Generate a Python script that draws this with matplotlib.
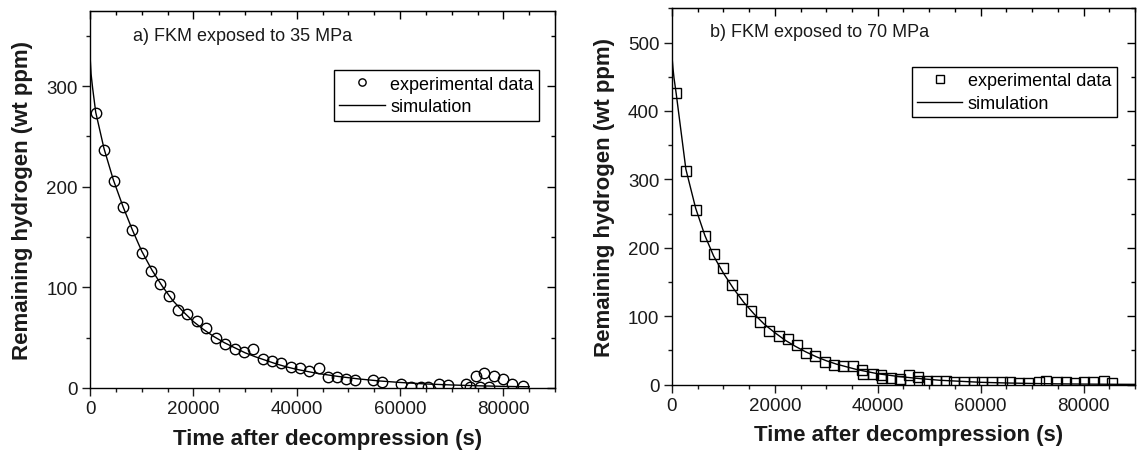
import matplotlib
matplotlib.use("Agg")
import matplotlib.pyplot as plt
from matplotlib.ticker import MultipleLocator

plt.rcParams['font.family'] = ['Liberation Sans', 'DejaVu Sans']

# a) FKM exposto a 35 MPa - dados experimentais (s, wt ppm)
t_exp_35 = [1100, 2700, 4570, 6360, 8100, 9970, 11700, 13500, 15300, 17000,
            18840, 20700, 22500, 24300, 26170, 27970, 29700, 31500, 33420, 35160,
            36970, 38900, 40640, 42430, 44220, 45960, 47700, 49500, 51300, 54700,
            56500, 60200, 62100, 64000, 65500, 67500, 69200, 72800, 73600, 74600,
            75500, 76300, 77300, 78100, 79900, 81600, 83700]
h_exp_35 = [273, 237, 206, 180, 157, 134, 116, 103, 91, 77.5,
            74, 67, 60, 49.5, 44, 38.6, 36, 39, 28.7, 27,
            24.8, 20.5, 19.5, 17.2, 19.8, 10.6, 10.6, 8.9, 8.2, 8.2,
            5.6, 4, 1.2, 1, 0.5, 4, 3, 4, 1, 12,
            0.8, 14.8, 0.8, 12, 8.9, 4, 2.3]
# simulação 35 MPa
t_sim_35 = [0, 200, 500, 1100, 2700, 4500, 6400, 8200, 10000, 12000, 14000,
            16000, 18000, 20000, 22000, 24000, 26000, 28000, 30000, 32000, 34000,
            36000, 38000, 40000, 44000, 48000, 52000, 56000, 60000, 65000, 70000,
            75000, 80000, 85000]
h_sim_35 = [330, 312, 298, 274, 238, 207, 180, 157, 136, 117, 101,
            87, 76, 66, 58, 51, 45, 40, 35, 31, 27.5,
            24, 21, 18.5, 14.5, 11.5, 9, 7, 5.5, 4, 3,
            2.2, 1.6, 1.2]

# b) FKM exposto a 70 MPa - dados experimentais
t_exp_70 = [830, 2710, 4590, 6390, 8130, 9940, 11750, 13620, 15300, 17040,
            18840, 20720, 22520, 24270, 26080, 27880, 29760, 31560, 33300, 35250,
            36930, 37100, 38990, 40730, 40800, 42560, 44300, 44400, 46100, 47900,
            48000, 49650, 51400, 53200, 54800, 56700, 58700, 60300, 62200, 64100,
            65800, 67400, 69300, 71300, 72800, 74800, 76500, 78400, 80000, 81900,
            83900, 85500]
h_exp_70 = [426, 312, 256, 217, 191.5, 170, 146, 125, 108, 92,
            79, 70.5, 66.6, 58, 47, 42.3, 33.6, 29.2, 26.8, 27.7,
            21, 16, 15.6, 14, 10, 9.3, 8.3, 6, 14, 10.8,
            5, 5.9, 5.8, 5.8, 4, 4.5, 4, 4.5, 4, 4,
            3.5, 3, 2.5, 4, 6, 4.5, 4, 3, 4, 4.5,
            6, 3]
# simulação 70 MPa
t_sim_70 = [0, 200, 400, 830, 2700, 4600, 6400, 8100, 10000, 12000, 14000,
            16000, 18000, 20000, 22000, 24000, 26000, 28000, 30000, 32000, 34000,
            36000, 38000, 40000, 44000, 48000, 52000, 56000, 60000, 65000, 70000,
            75000, 80000, 86000, 90000]
h_sim_70 = [480, 462, 448, 425, 315, 258, 218, 188, 163, 140, 120,
            103, 88, 76, 65, 56, 48, 41, 35, 30, 26,
            22, 19, 16, 12, 9, 6.5, 5, 3.5, 2.5, 1.8,
            1.2, 0.9, 0.6, 0.5]

fig = plt.figure(figsize=(11.37, 4.52), dpi=100)
ax1 = fig.add_axes([0.0792, 0.1394, 0.4090, 0.8347])
ax2 = fig.add_axes([0.5910, 0.1467, 0.4072, 0.8327])


def desenha(ax, t_exp, h_exp, t_sim, h_sim, marker, ymax, titulo, leg_xy):
    ax.plot(t_exp, h_exp, linestyle='none', marker=marker, markersize=7.5,
            markerfacecolor='none', markeredgecolor='black', markeredgewidth=1.0,
            label='experimental data')
    ax.plot(t_sim, h_sim, color='black', linewidth=1.0, label='simulation')

    ax.set_xlim(0, 90000)
    ax.set_ylim(0, ymax)
    ax.xaxis.set_major_locator(MultipleLocator(20000))
    ax.xaxis.set_minor_locator(MultipleLocator(5000))
    ax.yaxis.set_major_locator(MultipleLocator(100))
    ax.yaxis.set_minor_locator(MultipleLocator(50))
    ax.tick_params(which='both', direction='out', width=1.0, labelsize=13.5,
                   colors='#1a1a1a', pad=3)
    ax.tick_params(which='major', length=6)
    ax.tick_params(which='minor', length=3)
    for s in ax.spines.values():
        s.set_linewidth(1.0)

    # eixos de cima e da direita com ticks para dentro
    topo = ax.secondary_xaxis('top')
    topo.xaxis.set_major_locator(MultipleLocator(20000))
    topo.xaxis.set_minor_locator(MultipleLocator(5000))
    topo.tick_params(which='both', direction='in', labeltop=False, width=1.0)
    topo.tick_params(which='major', length=6)
    topo.tick_params(which='minor', length=3)
    dire = ax.secondary_yaxis('right')
    dire.yaxis.set_major_locator(MultipleLocator(100))
    dire.yaxis.set_minor_locator(MultipleLocator(50))
    dire.tick_params(which='both', direction='in', labelright=False, width=1.0)
    dire.tick_params(which='major', length=6)
    dire.tick_params(which='minor', length=3)

    ax.set_xlabel('Time after decompression (s)', fontsize=16, fontweight='bold',
                  color='#1a1a1a')
    ax.set_ylabel('Remaining hydrogen (wt ppm)', fontsize=16, fontweight='bold',
                  color='#1a1a1a')
    ax.xaxis.set_label_coords(0.51, -0.105)
    ax.yaxis.set_label_coords(-0.123, 0.5)

    ax.text(titulo[1], titulo[2], titulo[0], transform=ax.transAxes, fontsize=13,
            va='center', ha='left', color='#1a1a1a')

    leg = ax.legend(loc='upper right', bbox_to_anchor=leg_xy, borderaxespad=0,
                    fontsize=13, fancybox=False, edgecolor='black', framealpha=1,
                    markerscale=0.7, handlelength=2.5, handletextpad=0.3,
                    labelspacing=0.3, borderpad=0.3)
    leg.get_frame().set_linewidth(1.0)


desenha(ax1, t_exp_35, h_exp_35, t_sim_35, h_sim_35, 'o', 375,
        ('a) FKM exposed to 35 MPa', 0.0925, 0.934), (0.965, 0.842))
desenha(ax2, t_exp_70, h_exp_70, t_sim_70, h_sim_70, 's', 550,
        ('b) FKM exposed to 70 MPa', 0.082, 0.938), (0.9605, 0.844))

fig.savefig('out.png', dpi=100)
